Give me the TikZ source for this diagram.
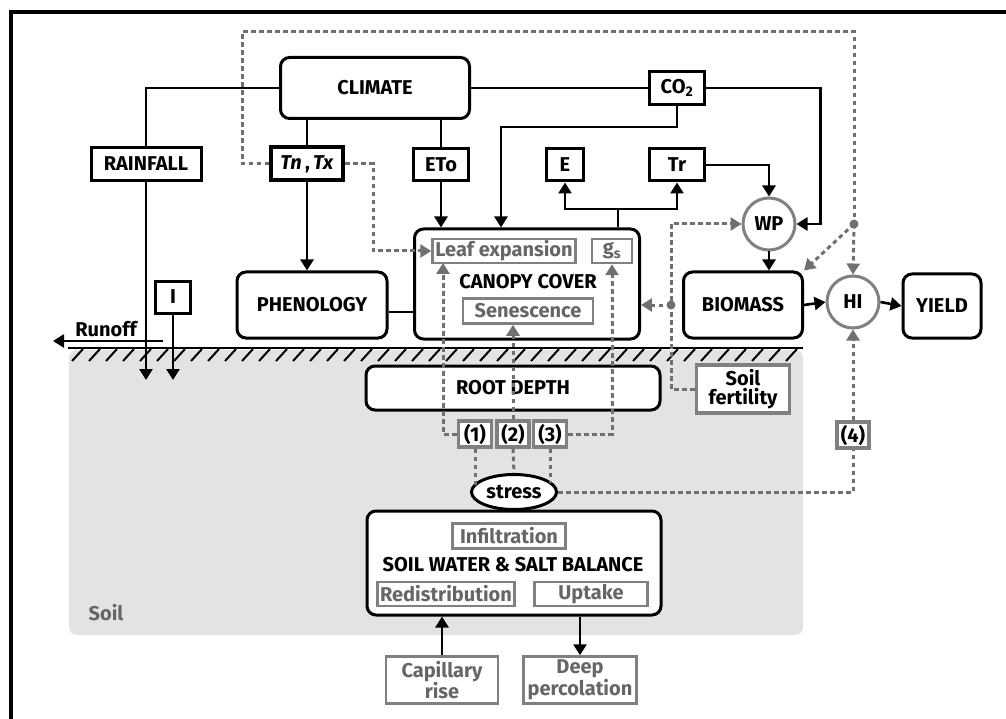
\documentclass[tikz,border=0pt]{standalone}
\usepackage{fontspec}
\setmainfont{Fira Sans}
\usetikzlibrary{arrows.meta,shapes.geometric}
\definecolor{dotgray}{HTML}{707070}
\definecolor{boxgray}{HTML}{808080}
\definecolor{txtgray}{HTML}{666666}
\definecolor{soilfill}{HTML}{E3E3E3}
\begin{document}
\begin{tikzpicture}[x=1pt,y=-1pt,
	every node/.style={font=\fontsize{20}{21}\selectfont\bfseries,inner sep=0pt},
	box/.style={draw,fill=white,line width=3pt},
	rbox/.style={box,rounded corners=9pt},
	gbox/.style={draw=boxgray,fill=white,line width=2.5pt,text=txtgray},
	nbox/.style={draw=boxgray,fill=white,line width=3.2pt,minimum height=26pt},
	circ/.style={circle,draw=boxgray,fill=white,line width=3pt,minimum size=52pt},
	flow/.style={line width=2.6pt,-{Triangle[length=11pt,width=13pt]}},
	link/.style={line width=2.6pt},
	dots/.style={draw=dotgray,line width=3pt,dash pattern=on 4.5pt off 3.5pt},
	dflow/.style={dots,-{Triangle[length=11pt,width=13pt]},dotgray}]
	\useasboundingbox (0,0) rectangle (1006,719);
	\draw[line width=3.5pt] (11,719) -- (11,12) -- (1006,12);

	% soil
	\fill[soilfill,rounded corners=8pt] (69,350) rectangle (803,635);
	\path (106,613) node[text=txtgray] (soillab) {Soil};
	\draw[line width=2.6pt] (68,348) -- (803,348);
	\foreach \x in {72,89,...,790}
		\draw[line width=2pt] (\x,361) -- ++(11,-12);

	% nodes
	\path (375,88)  node[rbox,minimum width=189pt,minimum height=61pt] (climate) {CLIMATE};
	\path (146,164) node[box,minimum width=110pt,minimum height=33pt] (rain) {RAINFALL};
	\path (307,164) node[box,line width=4pt,minimum width=72pt,minimum height=33pt] (tntx) {\textit{Tn}\,,\,\textit{Tx}};
	\path (441,165) node[box,minimum width=55pt,minimum height=32pt] (eto) {ETo};
	\path (677,88)  node[box,minimum width=55pt,minimum height=33pt] (co2) {CO\textsubscript{2}};
	\path (565,165) node[box,minimum width=37pt,minimum height=32pt] (e) {E};
	\path (677,165) node[box,minimum width=55pt,minimum height=32pt] (tr) {Tr};
	\path (769,224) node[circ] (wp) {WP};
	\path (312,305) node[rbox,minimum width=150pt,minimum height=66pt] (pheno) {PHENOLOGY};
	\path (527,284) node[rbox,minimum width=225pt,minimum height=110pt] (canopy) {};
	\path (528,282) node (cctext) {CANOPY COVER};
	\path (504,251) node[gbox,minimum width=143pt,minimum height=24pt] (leaf) {Leaf expansion};
	\path (612,251) node[gbox,minimum width=40pt,minimum height=24pt] (gs) {g\textsubscript{s}};
	\path (528,311) node[gbox,minimum width=130pt,minimum height=25pt] (sen) {Senescence};
	\path (743,305) node[rbox,minimum width=119pt,minimum height=66pt] (biomass) {BIOMASS};
	\path (853,302) node[circ] (hi) {HI};
	\path (942,306) node[rbox,minimum width=78pt,minimum height=64pt] (yield) {YIELD};
	\path (173,297) node[box,minimum width=35pt,minimum height=32pt] (irr) {I};
	\path (106,329) node (runlab) {Runoff};
	\path (513,388) node[rbox,minimum width=294pt,minimum height=44pt] (root) {ROOT DEPTH};
	\path (743,389) node[box,draw=boxgray,line width=3.2pt,minimum width=93pt,minimum height=48pt,align=center,font=\fontsize{20}{19}\selectfont\bfseries] (fert) {Soil\\fertility};
	\path (475,434) node[nbox,minimum width=33pt] (s1) {(1)};
	\path (513,434) node[nbox,minimum width=32pt] (s2) {(2)};
	\path (550,434) node[nbox,minimum width=33pt] (s3) {(3)};
	\path (853,435) node[nbox,minimum width=32pt] (s4) {(4)};
	\path (514,492) node[ellipse,draw,fill=white,line width=3pt,minimum width=85pt,minimum height=35pt] (stress) {stress};
	\path (514,563) node[rbox,minimum width=294pt,minimum height=104pt] (swb) {};
	\path (513,565) node (swbtext) {SOIL WATER \& SALT BALANCE};
	\path (509,536) node[gbox,minimum width=113pt,minimum height=25pt] (infil) {Infiltration};
	\path (446,594) node[gbox,minimum width=137pt,minimum height=24pt] (redis) {Redistribution};
	\path (591,594) node[gbox,minimum width=113pt,minimum height=24pt] (uptake) {Uptake};
	\path (442,680) node[gbox,minimum width=112pt,minimum height=47pt,align=center,font=\fontsize{20}{19}\selectfont\bfseries] (capil) {Capillary\\rise};
	\path (580,680) node[gbox,minimum width=113pt,minimum height=47pt,align=center,font=\fontsize{20}{19}\selectfont\bfseries] (deep) {Deep\\percolation};

	\coordinate (rainend) at (146,380);
	\coordinate (irrend)  at (173,380);
	\coordinate (runA)    at (163,341);
	\coordinate (runB)    at (53,341);
	\coordinate (leafin)  at (501,127);
	\coordinate (evap)    at (618,209);
	\coordinate (looptl)  at (242,32);
	\coordinate (hidot)   at (854,224);
	\coordinate (tnknee)  at (373,251);
	\coordinate (fdot)    at (671,305);
	\coordinate (leafpt)  at (443,263);

	% black connectors
	\draw[link] (climate.west) -| (rain.north);
	\draw[flow] (rain.south) -- (rainend);
	\draw[link] (climate.south -| tntx.north) -- (tntx.north);
	\draw[flow] (tntx.south) -- (tntx.south |- pheno.north);
	\draw[link] (climate.south -| eto.north) -- (eto.north);
	\draw[flow] (eto.south) -- (eto.south |- canopy.north);
	\draw[link] (climate.east) -- (climate.east -| co2.west);
	\draw[flow] (co2.east) -| ([xshift=24pt]wp.east) -- (wp.east);
	\draw[flow] (co2.south) |- (leafin) -- (leafin |- canopy.north);
	\draw[link] (canopy.north -| evap) -- (evap);
	\draw[flow] (evap) -| (e.south);
	\draw[flow] (evap) -| (tr.south);
	\draw[flow] (tr.east) -| (wp.north);
	\draw[flow] (wp.south) -- (biomass.north -| wp.south);
	\draw[flow] (biomass.east) -- (hi.west);
	\draw[flow] (hi.east) -- (yield.west);
	\draw[link] ([yshift=-7pt]pheno.east) -- ([yshift=-7pt]pheno.east -| canopy.west);
	\draw[flow] (irr.south) -- (irrend);
	\draw[flow] (runA) -- (runB);
	\draw[flow] (capil.north) -- (capil.north |- swb.south);
	\draw[flow] (swb.south -| deep.north) -- (deep.north);

	% stress links
	\draw[dots] (tntx.west) -| (looptl) -| (hidot);
	\draw[dflow] (hidot) -- (hi.north);
	\draw[dflow] (hidot) -- (biomass.north east);
	\fill[dotgray] (hidot) circle (4.5pt);
	\draw[dflow] (tntx.east) -| (tnknee) -- (leaf.west);
	\draw[dflow] (fert.west) -| (fdot) |- (wp.west);
	\draw[dflow] (fdot) -- (fdot -| canopy.east);
	\fill[dotgray] (fdot) circle (4.5pt);
	\draw[dflow] (s1.west) -| (leafpt);
	\draw[dflow] (s2.north) -- (s2.north |- sen.south);
	\draw[dflow] (s3.east) -| (gs.south);
	\draw[dots] (s1.south) -- (s1.south |- stress.172);
	\draw[dots] (s2.south) -- (stress.north);
	\draw[dots] (s3.south) -- (s3.south |- stress.13);
	\draw[dots] (stress.east) -| (s4.south);
	\draw[dflow] (s4.north) -- (hi.south);
\end{tikzpicture}
\end{document}
